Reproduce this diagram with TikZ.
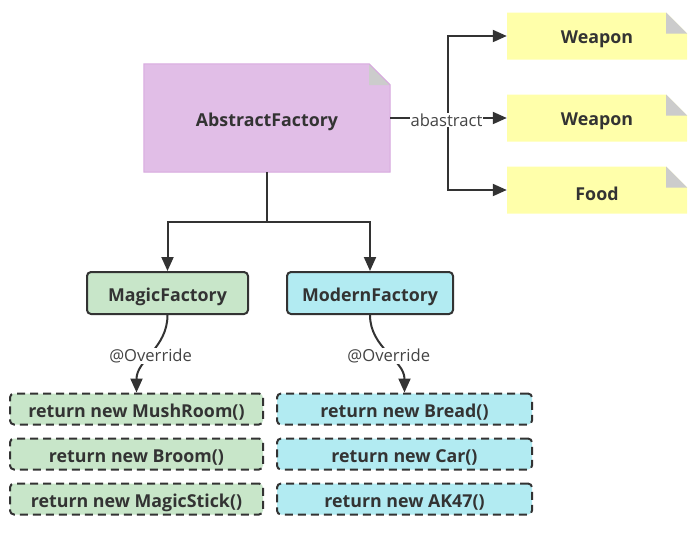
\documentclass[tikz,border=0pt]{standalone}
\usepackage{fontspec}
\setmainfont{Open Sans}
\usetikzlibrary{arrows.meta}
\definecolor{txt}{HTML}{333333}
\definecolor{purplefill}{HTML}{E1BEE7}
\definecolor{purpleline}{HTML}{D7A8DE}
\definecolor{yellowfill}{HTML}{FFFFAA}
\definecolor{foldgray}{HTML}{CCCCCC}
\definecolor{greenfill}{HTML}{C8E6C9}
\definecolor{cyanfill}{HTML}{B2EBF2}
\definecolor{lblgray}{HTML}{444444}
\newcommand{\dn}[1]{\raisebox{-3.5pt}[\height][\depth]{#1}}
\tikzset{
  note/.style={rectangle, inner sep=0pt, text=txt, font=\bfseries\fontsize{17.8}{20}\selectfont,
    path picture={
      \fill[#1] (path picture bounding box.south west) -- (path picture bounding box.north west)
        -- ([xshift=-21pt]path picture bounding box.north east)
        -- ([yshift=-21pt]path picture bounding box.north east)
        -- (path picture bounding box.south east) -- cycle;
      \fill[foldgray] ([xshift=-21pt]path picture bounding box.north east)
        -- ([xshift=-21pt,yshift=-21pt]path picture bounding box.north east)
        -- ([yshift=-21pt]path picture bounding box.north east) -- cycle;
    }},
  factory/.style={rectangle, rounded corners=4pt, draw=txt, line width=2pt, fill=#1,
    text=txt, font=\bfseries\fontsize{17.8}{20}\selectfont, minimum width=161pt, minimum height=42pt, inner sep=0pt},
  ret/.style={rectangle, rounded corners=4pt, draw=txt, line width=2pt, dash pattern=on 8pt off 5pt,
    fill=#1, text=txt, font=\bfseries\fontsize{17.8}{20}\selectfont, minimum width=253pt, minimum height=31pt, inner sep=0pt},
  conn/.style={draw=txt, line width=2pt, -{Triangle[length=14pt,width=12pt]}},
  plain/.style={draw=txt, line width=2pt},
  lbl/.style={fill=white, inner sep=1pt, text=lblgray, font=\fontsize{16.6}{18}\selectfont}
}
\begin{document}
\begin{tikzpicture}[x=1pt,y=-1pt]
\useasboundingbox (0,0) rectangle (693,552);
% notes
\node[note=purplefill, minimum width=246pt, minimum height=108pt] (abs) at (267,118) {\dn{AbstractFactory}};
\draw[purpleline, line width=1pt] (abs.south west) -- (abs.north west) -- ([xshift=-21pt]abs.north east) -- ([yshift=-21pt]abs.north east) -- (abs.south east) -- cycle;
\node[note=yellowfill, minimum width=180pt, minimum height=47pt] (w1) at (597,36) {\dn{Weapon}};
\node[note=yellowfill, minimum width=180pt, minimum height=47pt] (w2) at (597,118) {\dn{Weapon}};
\node[note=yellowfill, minimum width=180pt, minimum height=47pt] (food) at (597,190) {\dn{Food}};
% factories
\node[factory=greenfill] (magic) at (167.5,293) {\dn{MagicFactory}};
\node[factory=cyanfill, minimum width=166pt] (modern) at (370,293) {\dn{ModernFactory}};
% return boxes
\node[ret=greenfill] (m1) at (136.5,409) {\dn{return new MushRoom()}};
\node[ret=greenfill] (m2) at (136.5,454) {\dn{return new Broom()}};
\node[ret=greenfill] (m3) at (136.5,499) {\dn{return new MagicStick()}};
\node[ret=cyanfill, minimum width=255pt] (r1) at (404.5,409) {\dn{return new Bread()}};
\node[ret=cyanfill, minimum width=255pt] (r2) at (404.5,454) {\dn{return new Car()}};
\node[ret=cyanfill, minimum width=255pt] (r3) at (404.5,499) {\dn{return new AK47()}};
% connectors right
\coordinate (j) at (448,118);
\draw[conn] (j) |- (w1.west);
\draw[conn] (j) |- (food.west);
\draw[conn] (abs.east) -- (w2.west);
\node[lbl] (abl) at (446.5,120) {abastract};
% connectors down
\coordinate (k) at (267,222);
\draw[plain] (abs.south) -- (k);
\draw[conn] (k) -| (magic.north);
\draw[conn] (k) -| (modern.north);
% override curves
\draw[conn] (magic.south) .. controls (167.5,348) and (136.5,360) .. (m1.north)
  node[lbl, pos=0.53] (o1) {@Override};
\draw[conn] (modern.south) .. controls (370,348) and (404.5,360) .. (r1.north)
  node[lbl, pos=0.53] (o2) {@Override};
\end{tikzpicture}
\end{document}
